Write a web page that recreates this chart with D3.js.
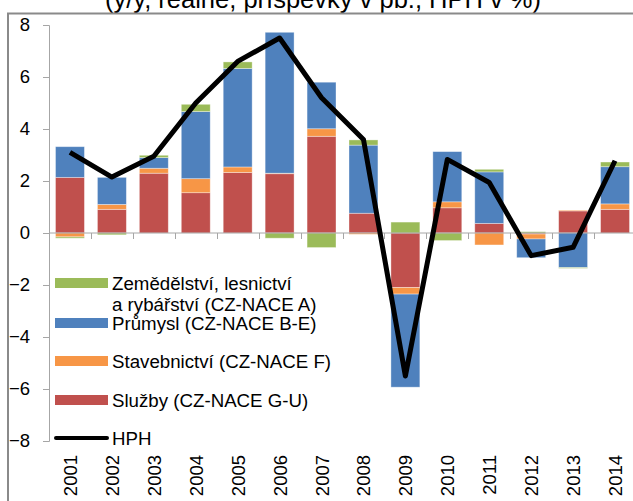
<!DOCTYPE html>
<html>
<head>
<meta charset="utf-8">
<script src="https://cdn.jsdelivr.net/npm/d3@7"></script>
<style>
  body { margin: 0; background: #fff; }
  svg { display: block; font-family: "Liberation Sans", Arial, sans-serif; }
</style>
</head>
<body>
<div id="chart"></div>
<script>
// data
const years = ["2001", "2002", "2003", "2004", "2005", "2006", "2007",
               "2008", "2009", "2010", "2011", "2012", "2013", "2014"];
const zemedelstvi = [-0.05, -0.07, 0.09, 0.28, 0.25, -0.20, -0.56, 0.20, 0.42, -0.29, 0.10, 0.05, -0.03, 0.18];
const prumysl     = [1.18, 1.04, 0.41, 2.58, 3.79, 5.42, 1.79, 2.62, -3.58, 1.93, 1.98, -0.72, -1.33, 1.43];
const stavebnictvi = [-0.15, 0.19, 0.19, 0.54, 0.21, 0.02, 0.29, -0.05, -0.25, 0.23, -0.46, -0.19, 0.03, 0.21];
const sluzby      = [2.14, 0.91, 2.30, 1.55, 2.33, 2.28, 3.72, 0.76, -2.10, 0.97, 0.37, -0.04, 0.85, 0.91];
const hph         = [3.10, 2.15, 2.95, 5.00, 6.60, 7.50, 5.20, 3.60, -5.50, 2.83, 1.94, -0.87, -0.55, 2.78];
const yTicks = [-8, -6, -4, -2, 0, 2, 4, 6, 8];

const title = "(y/y, reálné, příspěvky v pb., HPH v %)";

// stack order: services at the bottom, agriculture on top
const series = [
    { key: "sluzby", label: ["Služby (CZ-NACE G-U)"], color: "#c0504d", values: sluzby },
    { key: "stav", label: ["Stavebnictví (CZ-NACE F)"], color: "#f79646", values: stavebnictvi },
    { key: "prum", label: ["Průmysl (CZ-NACE B-E)"], color: "#4f81bd", values: prumysl },
    { key: "zem", label: ["Zemědělství, lesnictví", "a rybářství (CZ-NACE A)"], color: "#9bbb59", values: zemedelstvi }
];

const width = 633, height = 501;

const svg = d3.select("#chart").append("svg")
    .attr("width", width)
    .attr("height", height);

// table for d3.stack
let table = years.map((y, i) => {
    let row = { year: y };
    series.forEach(s => row[s.key] = s.values[i]);
    return row;
});

let stacked = d3.stack()
    .keys(series.map(s => s.key))
    .offset(d3.stackOffsetDiverging)(table);

// scales
let x = d3.scaleBand()
    .domain(years)
    .range([49, 636])
    .paddingInner(0.31)
    .paddingOuter(0.155);

let y = d3.scaleLinear()
    .domain([-8, 8])
    .range([441, 25]);

// title (cut off at the top of the picture, as in the original)
svg.append("text")
    .attr("x", 323)
    .attr("y", 8)
    .attr("text-anchor", "middle")
    .style("font-size", "25.5px")
    .style("fill", "#000")
    .text(title);

// outer frame
svg.append("path")
    .attr("d", "M8,501 V13.5 H633")
    .attr("fill", "none")
    .attr("stroke", "#8a8a8a")
    .attr("stroke-width", 2);

// y axis
let yAxis = d3.axisLeft(y)
    .tickValues(yTicks)
    .tickSize(6)
    .tickPadding(13)
    .tickFormat(d3.format("d"));

let yG = svg.append("g")
    .attr("class", "y-axis")
    .attr("transform", "translate(49,0)")
    .call(yAxis);

yG.attr("font-family", null);
yG.select(".domain").attr("stroke", "#a6a6a6");
yG.selectAll(".tick line").attr("stroke", "#a6a6a6");
yG.selectAll(".tick text")
    .style("font-size", "18.5px")
    .style("fill", "#000");

// bars
let groups = svg.append("g").attr("class", "bars")
    .selectAll("g")
    .data(stacked)
    .enter().append("g")
    .attr("fill", (d, i) => series[i].color);

groups.selectAll("rect")
    .data(d => d)
    .enter().append("rect")
    .attr("x", d => x(d.data.year))
    .attr("width", x.bandwidth())
    .attr("y", d => y(Math.max(d[0], d[1])))
    .attr("height", d => Math.abs(y(d[0]) - y(d[1])))
    .attr("stroke", "#ffffff")
    .attr("stroke-opacity", 0.45)
    .attr("stroke-width", 0.8);

// x axis at zero, ticks between categories
let zeroY = y(0);
let boundaries = years.map(yr => x(yr) - x.step() * x.paddingInner() / 2);
boundaries.push(boundaries[boundaries.length - 1] + x.step());

let xG = svg.append("g").attr("class", "x-axis");
xG.append("line")
    .attr("x1", 49).attr("x2", width)
    .attr("y1", zeroY).attr("y2", zeroY)
    .attr("stroke", "#a6a6a6");
xG.selectAll(".xtick")
    .data(boundaries.slice(1))
    .enter().append("line")
    .attr("class", "xtick")
    .attr("x1", d => Math.round(d) + 0.5).attr("x2", d => Math.round(d) + 0.5)
    .attr("y1", zeroY).attr("y2", zeroY + 6)
    .attr("stroke", "#a6a6a6");

// year labels, rotated, below the plot
svg.append("g").attr("class", "x-labels")
    .selectAll("text")
    .data(years)
    .enter().append("text")
    .attr("transform", d => `translate(${x(d) + x.bandwidth() / 2 + 7},455) rotate(-90)`)
    .attr("text-anchor", "end")
    .style("font-size", "18.5px")
    .style("fill", "#000")
    .text(d => d);

// HPH line
let line = d3.line()
    .x((d, i) => x(years[i]) + x.bandwidth() / 2)
    .y(d => y(d));

svg.append("path")
    .datum(hph)
    .attr("fill", "none")
    .attr("stroke", "#000")
    .attr("stroke-width", 5)
    .attr("stroke-linejoin", "round")
    .attr("d", line);

// legend
let legend = svg.append("g").attr("class", "legend");
let legendRows = [
    { s: series[3], cy: 283 },
    { s: series[2], cy: 323 },
    { s: series[1], cy: 361 },
    { s: series[0], cy: 400 }
];

legendRows.forEach(r => {
    legend.append("rect")
        .attr("x", 55).attr("y", r.cy - 5)
        .attr("width", 53).attr("height", 10)
        .attr("fill", r.s.color);
    r.s.label.forEach((t, j) => {
        legend.append("text")
            .attr("x", 112)
            .attr("y", r.cy + 6.5 + j * 21)
            .style("font-size", "18.7px")
            .style("fill", "#000")
            .text(t);
    });
});

legend.append("line")
    .attr("x1", 56).attr("x2", 107)
    .attr("y1", 438).attr("y2", 438)
    .attr("stroke", "#000")
    .attr("stroke-width", 4)
    .attr("stroke-linecap", "round");

legend.append("text")
    .attr("x", 112)
    .attr("y", 444.5)
    .style("font-size", "18.7px")
    .style("fill", "#000")
    .text("HPH");
</script>
</body>
</html>
